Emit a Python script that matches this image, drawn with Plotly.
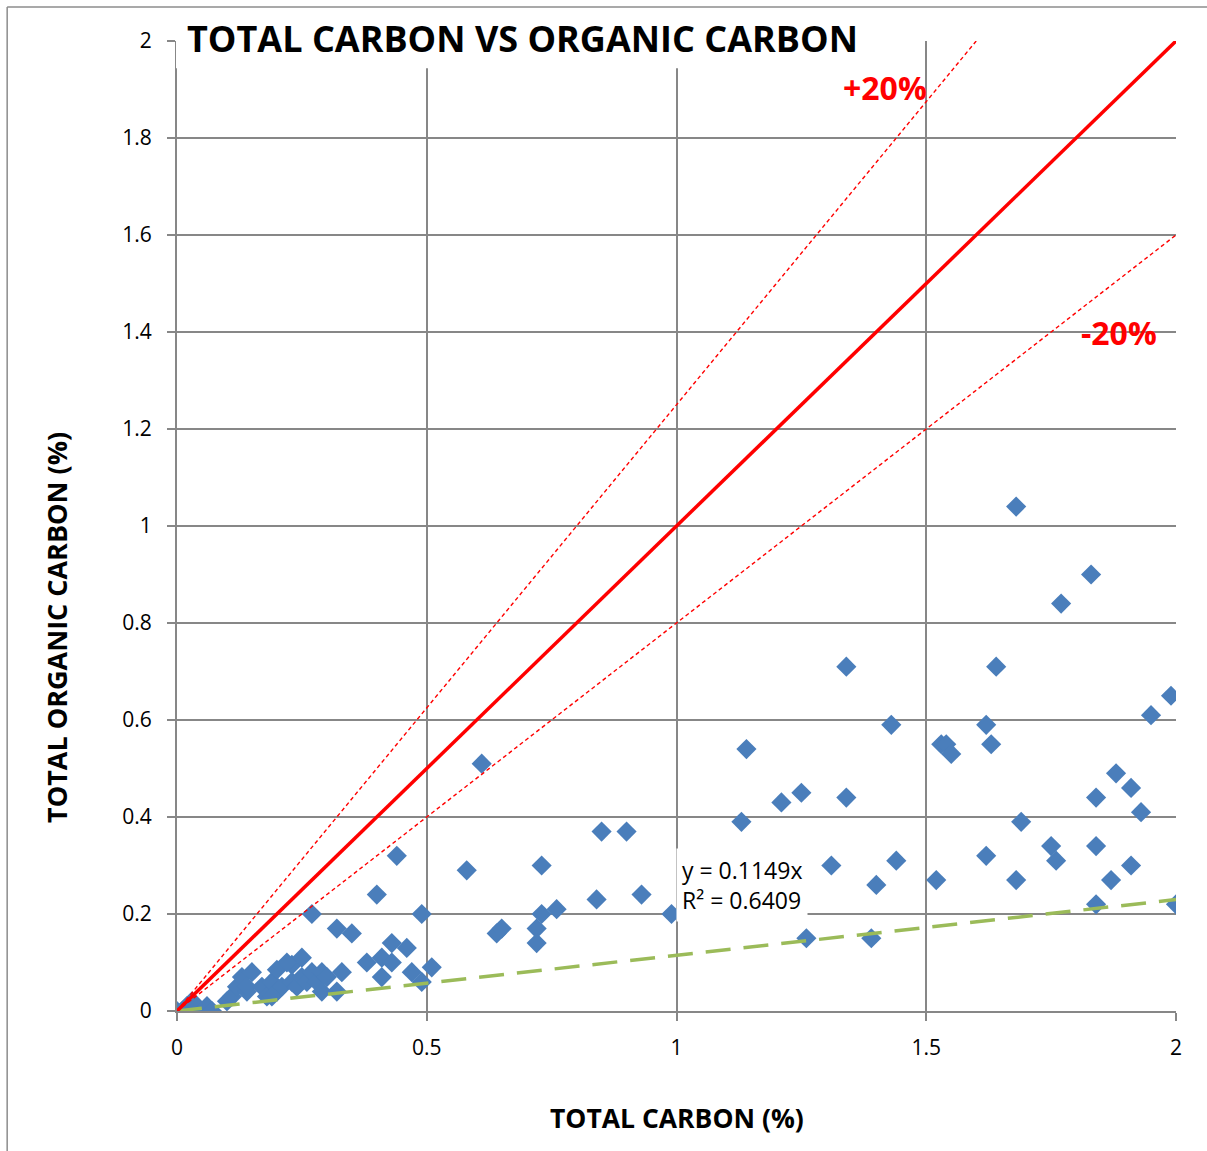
import plotly.graph_objects as go

# ---- data ----
total_carbon = [
    0.00, 0.01, 0.02, 0.03, 0.04, 0.05, 0.06, 0.07,
    0.10, 0.11, 0.12, 0.13, 0.14, 0.15, 0.14, 0.17, 0.18, 0.19, 0.20, 0.20,
    0.21, 0.23, 0.23, 0.24, 0.25, 0.25, 0.26, 0.27, 0.28, 0.29, 0.29, 0.30,
    0.32, 0.33, 0.22, 0.19,
    0.27, 0.32, 0.35,
    0.38, 0.40, 0.41, 0.41, 0.43, 0.43, 0.44, 0.46, 0.47, 0.49, 0.49, 0.51,
    0.58, 0.61, 0.64, 0.65, 0.72, 0.72, 0.73, 0.73, 0.76, 0.84, 0.85, 0.90,
    0.93, 0.99,
    1.13, 1.14, 1.21, 1.25, 1.26, 1.31, 1.34, 1.34, 1.39, 1.40, 1.43, 1.44,
    1.52, 1.53, 1.54, 1.55, 1.62, 1.62, 1.63, 1.64, 1.68, 1.68, 1.69, 1.75,
    1.76, 1.77, 1.83, 1.84, 1.84, 1.84, 1.87, 1.88, 1.91, 1.91, 1.93, 1.95,
    1.99, 2.00,
]
total_organic_carbon = [
    0.00, 0.00, 0.01, 0.02, 0.01, 0.00, 0.01, 0.00,
    0.02, 0.03, 0.05, 0.07, 0.04, 0.08, 0.05, 0.05, 0.03, 0.06, 0.085, 0.04,
    0.05, 0.095, 0.06, 0.05, 0.11, 0.07, 0.06, 0.08, 0.06, 0.08, 0.04, 0.07,
    0.04, 0.08, 0.10, 0.03,
    0.20, 0.17, 0.16,
    0.10, 0.24, 0.11, 0.07, 0.14, 0.10, 0.32, 0.13, 0.08, 0.06, 0.20, 0.09,
    0.29, 0.51, 0.16, 0.17, 0.17, 0.14, 0.20, 0.30, 0.21, 0.23, 0.37, 0.37,
    0.24, 0.20,
    0.39, 0.54, 0.43, 0.45, 0.15, 0.30, 0.71, 0.44, 0.15, 0.26, 0.59, 0.31,
    0.27, 0.55, 0.55, 0.53, 0.59, 0.32, 0.55, 0.71, 1.04, 0.27, 0.39, 0.34,
    0.31, 0.84, 0.90, 0.44, 0.34, 0.22, 0.27, 0.49, 0.46, 0.30, 0.41, 0.61,
    0.65, 0.22,
]

line_x = [0, 2]
one_to_one = [0, 2]
plus20_x = [0, 1.6]
plus20_y = [0, 2.0]
minus20_y = [0, 1.6]
trend_slope = 0.1149
r_squared = 0.6409

title_text = "TOTAL CARBON VS ORGANIC CARBON"
x_title = "TOTAL CARBON (%)"
y_title = "TOTAL ORGANIC CARBON (%)"

GRID = "#878787"
FONT = "Open Sans"

fig = go.Figure()
fig.add_trace(go.Scatter(
    x=total_carbon, y=total_organic_carbon, mode="markers",
    marker=dict(symbol="diamond", size=15.5, color="#4A7EBB", line=dict(width=0)),
    showlegend=False))
fig.add_trace(go.Scatter(
    x=line_x, y=[trend_slope * v for v in line_x], mode="lines",
    line=dict(color="#9BBB59", width=3.5, dash="25px,13px"), showlegend=False))
fig.add_trace(go.Scatter(
    x=plus20_x, y=plus20_y, mode="lines",
    line=dict(color="#FF0000", width=1.4, dash="4px,3px"), showlegend=False))
fig.add_trace(go.Scatter(
    x=line_x, y=minus20_y, mode="lines",
    line=dict(color="#FF0000", width=1.4, dash="4px,3px"), showlegend=False))
fig.add_trace(go.Scatter(
    x=line_x, y=one_to_one, mode="lines",
    line=dict(color="#FF0000", width=3.5), showlegend=False))

axis_common = dict(
    showgrid=True, gridcolor=GRID, gridwidth=2,
    showline=True, linecolor=GRID, linewidth=2,
    ticks="outside", ticklen=8, tickcolor=GRID, tickwidth=2,
    zeroline=False, tickfont=dict(family=FONT, size=21, color="#000000"),
)
fig.update_xaxes(range=[0, 2], dtick=0.5, tick0=0, ticklabelstandoff=9, **axis_common)
fig.update_yaxes(range=[0, 2], dtick=0.2, tick0=0, ticklabelstandoff=11, **axis_common)

# border of the chart area
fig.add_shape(type="line", xref="paper", yref="paper",
              x0=-0.170, y0=1.035, x1=1.05, y1=1.035,
              line=dict(color="#8C8C8C", width=1.5))
fig.add_shape(type="line", xref="paper", yref="paper",
              x0=-0.170, y0=1.035, x1=-0.170, y1=-0.2,
              line=dict(color="#8C8C8C", width=1.5))
# white box behind title
fig.add_shape(type="rect", xref="paper", yref="paper", layer="above",
              x0=-0.001, x1=0.684, y0=0.972, y1=1.03,
              fillcolor="white", line=dict(width=0))

fig.add_annotation(text=f"<b>{title_text}</b>", xref="paper", yref="paper",
                   x=0.008, y=1.003, xanchor="left", yanchor="middle",
                   showarrow=False, font=dict(family=FONT, size=36, color="black"))
fig.add_annotation(text=f"<b>{x_title}</b>", xref="paper", yref="paper",
                   x=0.5005, y=-0.110, xanchor="center", yanchor="middle",
                   showarrow=False, font=dict(family=FONT, size=26.5, color="black"))
fig.add_annotation(text=f"<b>{y_title}</b>", xref="paper", yref="paper",
                   x=-0.120, y=0.395, xanchor="center", yanchor="middle",
                   textangle=-90, showarrow=False,
                   font=dict(family=FONT, size=27, color="black"))
fig.add_annotation(text="<b>+20%</b>", x=1.417, y=1.905, showarrow=False,
                   font=dict(family=FONT, size=32, color="#FF0000"))
fig.add_annotation(text="<b>-20%</b>", x=1.886, y=1.398, showarrow=False,
                   font=dict(family=FONT, size=32, color="#FF0000"))
fig.add_annotation(text=f"y = {trend_slope}x<br>R² = {r_squared}",
                   x=0.998, y=0.26, xanchor="left", yanchor="middle", align="left",
                   showarrow=False, bgcolor="white", borderpad=5,
                   font=dict(family=FONT, size=23, color="black"))

fig.update_layout(
    width=1207, height=1151,
    margin=dict(l=177, r=31, t=41, b=140),
    paper_bgcolor="white", plot_bgcolor="white",
    showlegend=False,
)
fig.write_html("out.html")
